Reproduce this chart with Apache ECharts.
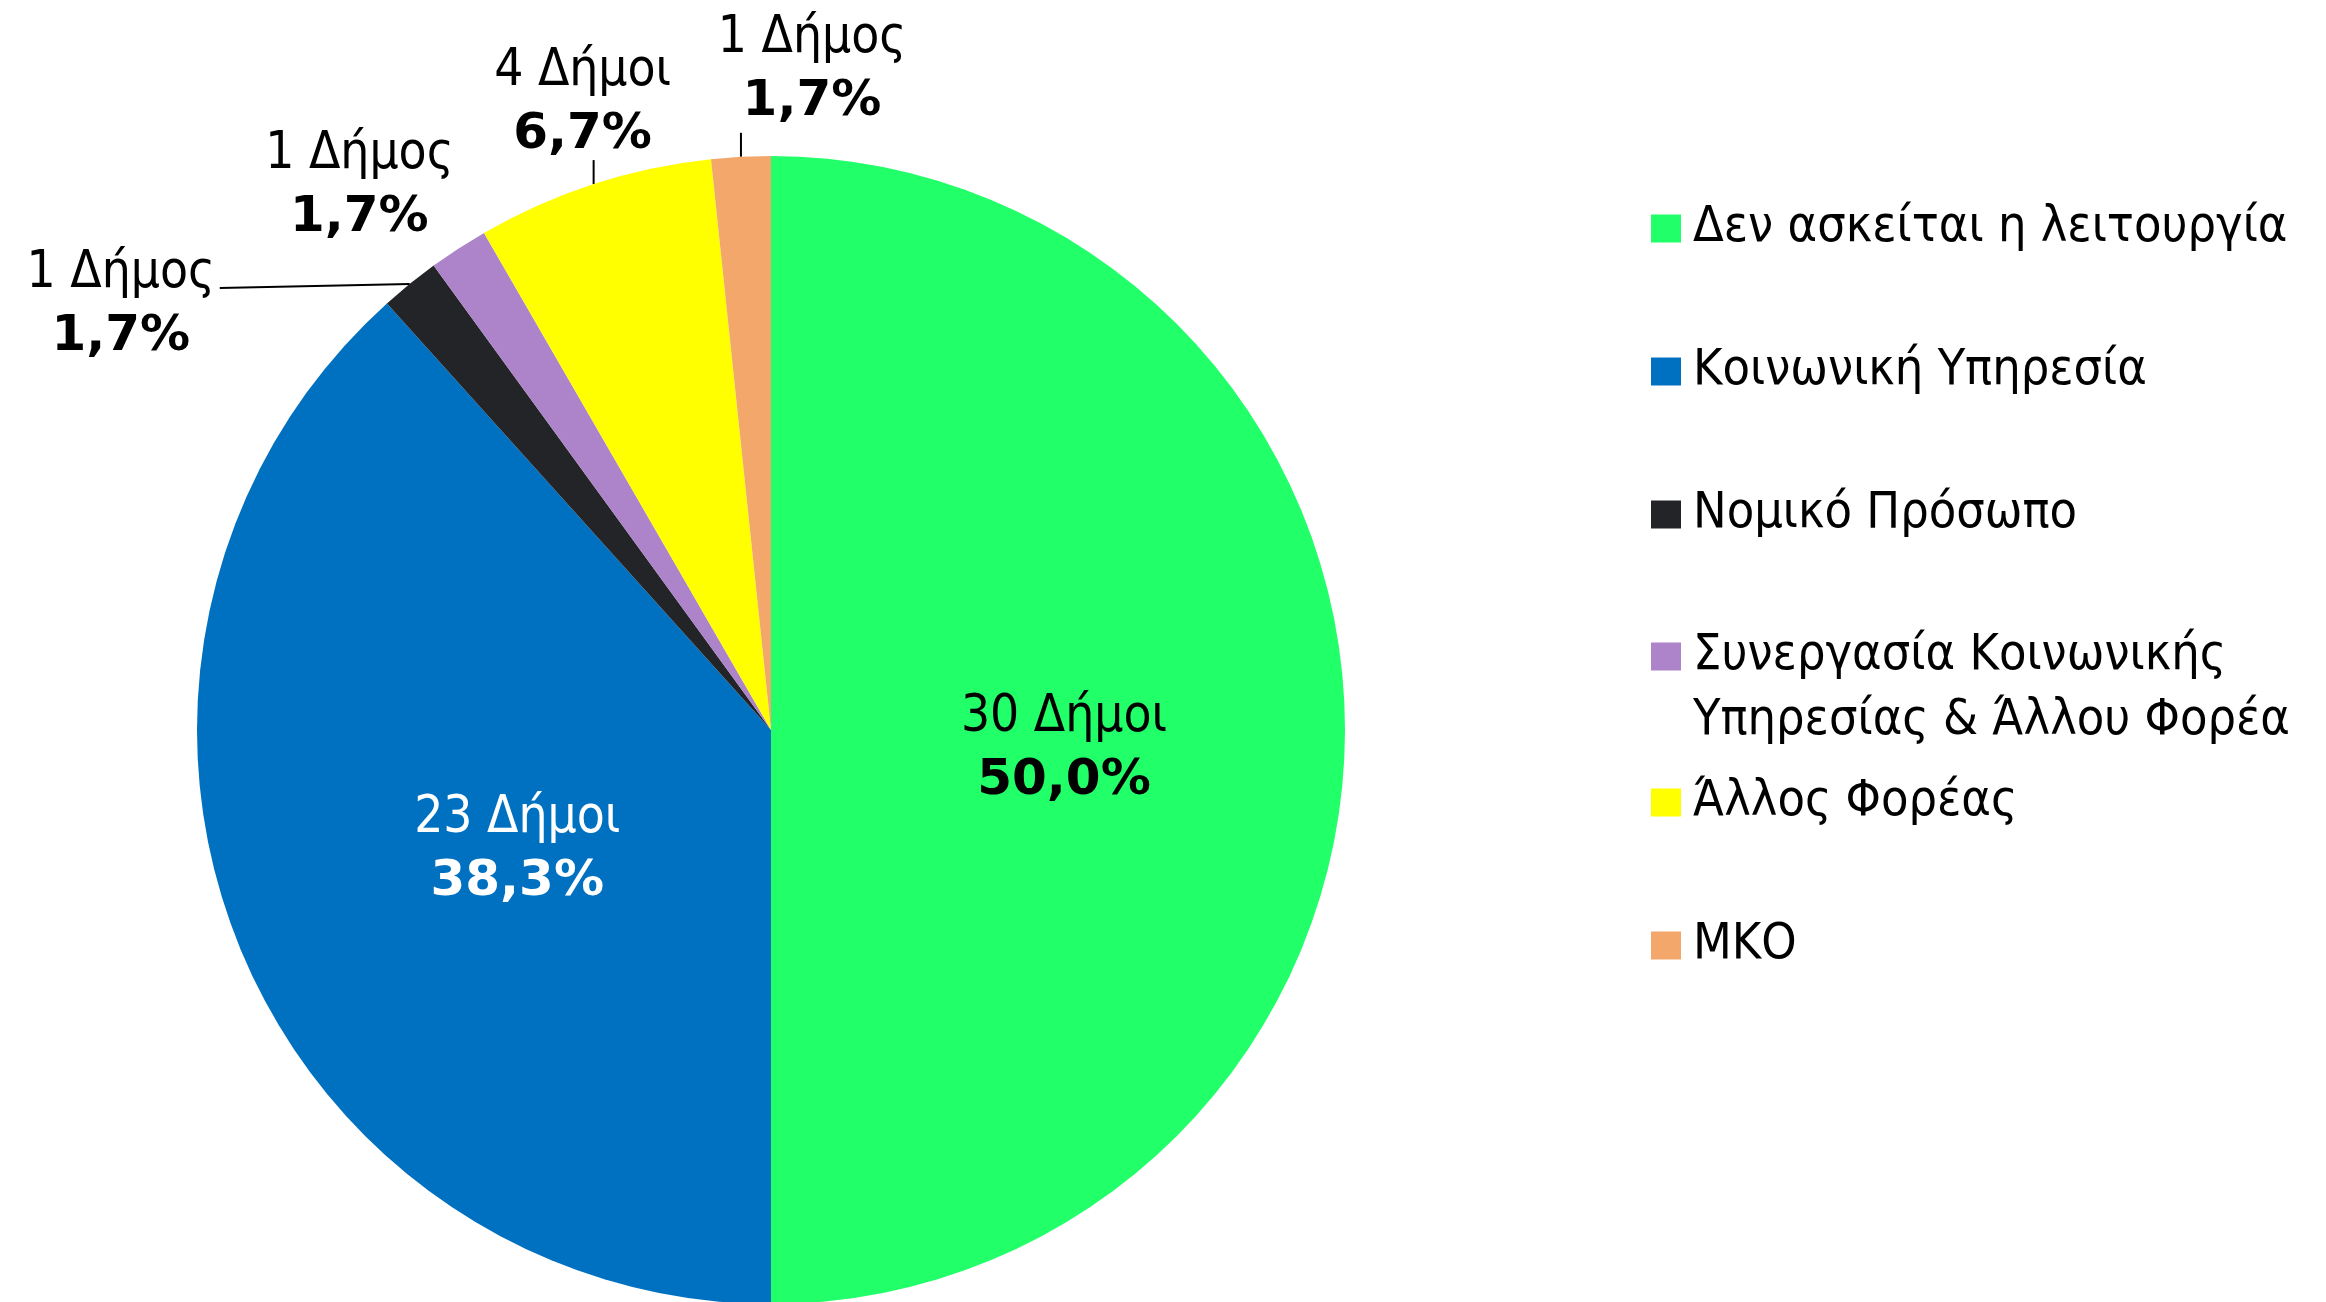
<!DOCTYPE html>
<html>
<head>
<meta charset="utf-8">
<script src="https://cdn.jsdelivr.net/npm/echarts@6/dist/echarts.min.js"></script>
<style>
  html, body { margin: 0; padding: 0; background: #fff; }
  #pie_chart { width: 2326px; height: 1302px; }
</style>
</head>
<body>
<div id="pie_chart"></div>
<script>
// categories and number of municipalities per category
var categories = [
    'Δεν ασκείται η λειτουργία',
    'Κοινωνική Υπηρεσία',
    'Νομικό Πρόσωπο',
    'Συνεργασία Κοινωνικής\nΥπηρεσίας & Άλλου Φορέα',
    'Άλλος Φορέας',
    'ΜΚΟ'
];
var counts = [30, 23, 1, 1, 4, 1];
var colors = ['#21FF69', '#0070C0', '#232428', '#AD83C9', '#FFFF00', '#F4A76B'];

var labelFont = "'DejaVu Sans Condensed', 'Liberation Sans Narrow', sans-serif";
var boldFont = "'DejaVu Sans', sans-serif";

// inside labels: small nudge off the default spot
var insideOffset = { 0: [3, 21], 1: [17, 18] };

// where the outside labels sit, relative to the slice edge point
var outsidePlace = {
    2: { dx: -289, dy: 23, lx: -190, ly: 4 },
    3: { dx: -99, dy: -61, lx: 0, ly: 0 },
    4: { dx: -11, dy: -79, lx: 0, ly: -24 },
    5: { dx: 71, dy: -85, lx: 0, ly: -24 }
};

function makeLegend(names, top, fmt) {
    let lg = {
        orient: 'vertical',
        left: 1651,
        top: top,
        padding: 0,
        icon: 'rect',
        itemWidth: 30,
        itemHeight: 28,
        itemGap: 78,
        selectedMode: false,
        textStyle: {
            fontFamily: labelFont,
            fontSize: 50,
            lineHeight: 65,
            padding: [0, 0, 0, 7],
            color: '#000'
        },
        data: names
    };
    if (fmt) lg.formatter = fmt;
    return lg;
}

function pie_chart() {
    let pieEcharts = echarts.init(document.getElementById('pie_chart'));

    let total = 0;
    for (var i = 0; i < counts.length; i++) total += counts[i];

    let pieData = [];
    for (var i = 0; i < categories.length; i++) {
        let inside = i < 2;
        let lbl = {
            position: inside ? 'inside' : 'outside',
            color: i == 1 ? '#fff' : '#000'
        };
        if (insideOffset[i]) lbl.offset = insideOffset[i];
        pieData.push({
            name: categories[i],
            value: counts[i],
            itemStyle: { color: colors[i] },
            label: lbl,
            labelLine: {
                show: !inside,
                lineStyle: { color: '#000', width: 2 }
            }
        });
    }

    var option = {
        animation: false,
        legend: [
            makeLegend(categories.slice(0, 3), 196),
            // two-line entry: empty first line so the icon sits on the first text line
            makeLegend(categories.slice(3, 4), 559, function (name) { return '\n' + name; }),
            makeLegend(categories.slice(4), 770)
        ],
        series: [
            {
                type: 'pie',
                center: [771, 730],
                radius: 574,
                startAngle: 90,
                clockwise: true,
                avoidLabelOverlap: false,
                label: {
                    show: true,
                    fontFamily: labelFont,
                    formatter: function (p) {
                        let word = p.value == 1 ? 'Δήμος' : 'Δήμοι';
                        let pct = (p.value / total * 100).toFixed(1).replace('.', ',');
                        return '{a|' + p.value + ' ' + word + '}\n{b|' + pct + '%}';
                    },
                    rich: {
                        a: { fontFamily: labelFont, fontSize: 51, lineHeight: 60 },
                        b: { fontFamily: boldFont, fontSize: 50, fontWeight: 'bold', lineHeight: 66 }
                    }
                },
                labelLayout: function (params) {
                    let o = outsidePlace[params.dataIndex];
                    if (!o || !params.labelLinePoints) return {};
                    let p = params.labelLinePoints[0];
                    return {
                        x: p[0] + o.dx,
                        y: p[1] + o.dy,
                        align: 'center',
                        verticalAlign: 'middle',
                        labelLinePoints: [[p[0], p[1]], [p[0] + o.lx, p[1] + o.ly]]
                    };
                },
                data: pieData
            }
        ]
    };

    option && pieEcharts.setOption(option, true);
}

pie_chart();
</script>
</body>
</html>
